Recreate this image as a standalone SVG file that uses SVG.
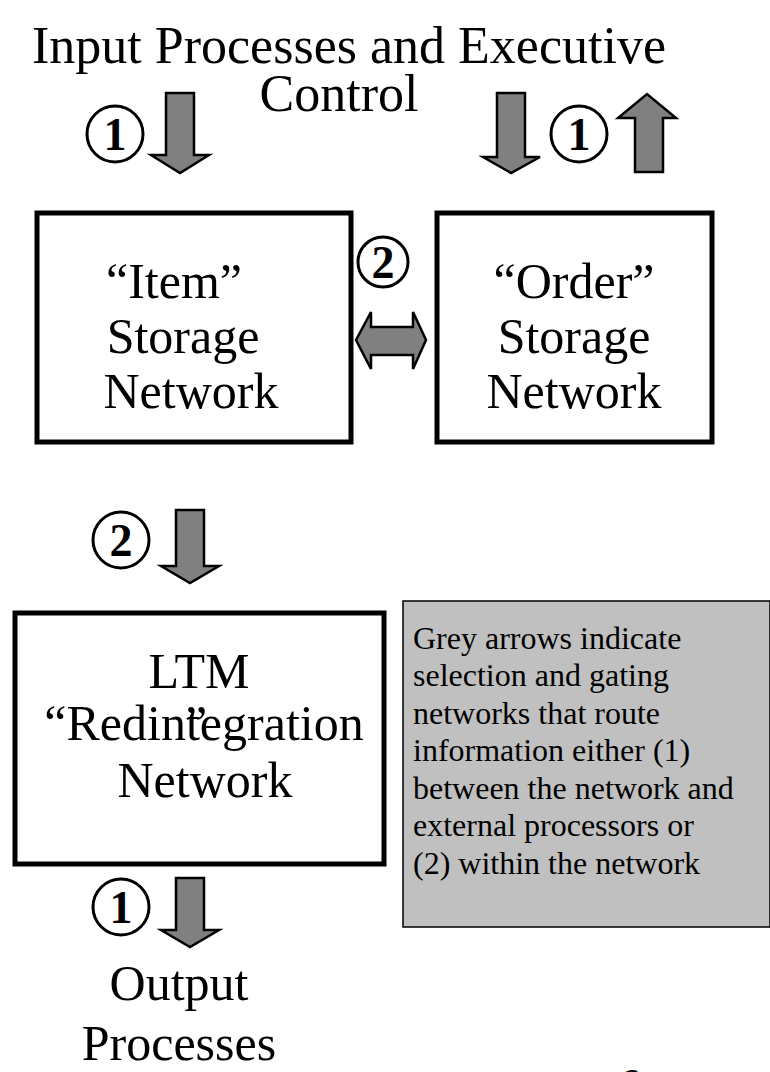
<svg xmlns="http://www.w3.org/2000/svg" width="770" height="1072" viewBox="0 0 770 1072">
  <defs>
    <style>
      .t { font-family: "Liberation Serif", "Times New Roman", serif; fill: #000; }
      .big { font-size: 50px; text-anchor: middle; }
      .title { font-size: 52px; text-anchor: middle; }
      .note { font-size: 32px; }
      .box { fill: #fff; stroke: #000; stroke-width: 5; }
      .arrow { fill: #808080; stroke: #000; stroke-width: 2.5; stroke-linejoin: miter; }
      .badge circle { fill: #fff; stroke: #000; stroke-width: 3; }
      .badge text { font-family: "Liberation Serif", "Times New Roman", serif; font-weight: bold; font-size: 46px; text-anchor: middle; }
    </style>
  </defs>

  <rect width="770" height="1072" fill="#fff"/>

  <!-- external processes -->
  <g id="input-processes">
    <text class="t title" x="349" y="63">Input Processes and Executive</text>
    <text class="t title" x="339" y="111">Control</text>
  </g>

  <!-- storage networks -->
  <g id="item-storage">
    <rect class="box" x="37" y="213" width="314" height="229"/>
    <text class="t big" x="174" y="298">“Item”</text>
    <text class="t big" x="183" y="353">Storage</text>
    <text class="t big" x="191" y="408">Network</text>
  </g>

  <g id="order-storage">
    <rect class="box" x="437" y="213" width="275" height="229"/>
    <text class="t big" x="574" y="298">“Order”</text>
    <text class="t big" x="574" y="353">Storage</text>
    <text class="t big" x="574" y="408">Network</text>
  </g>

  <g id="ltm-network">
    <rect class="box" x="15" y="613" width="369" height="251"/>
    <text class="t big" x="199" y="688">LTM</text>
    <text class="t big" x="204" y="740">“Redintegration</text>
    <text class="t" x="185" y="740" style="font-size:50px">”</text>
    <text class="t big" x="205" y="797">Network</text>
  </g>

  <g id="output-processes">
    <text class="t big" x="179" y="1000">Output</text>
    <text class="t big" x="179" y="1060">Processes</text>
  </g>

  <g id="legend">
    <rect x="403" y="601" width="367" height="326" fill="#c0c0c0" stroke="#000" stroke-width="1.5"/>
    <text class="t note" x="413" y="649">Grey arrows indicate</text>
    <text class="t note" x="413" y="686">selection and gating</text>
    <text class="t note" x="413" y="724">networks that route</text>
    <text class="t note" x="413" y="761">information either (1)</text>
    <text class="t note" x="413" y="799">between the network and</text>
    <text class="t note" x="413" y="836">external processors or</text>
    <text class="t note" x="413" y="874">(2) within the network</text>
  </g>

  <g id="page-number">
    <text class="t" x="620" y="1096" style="font-size:40px">6</text>
  </g>

  <!-- gating arrows and their route labels -->
  <g id="connectors">
    <g class="badge"><circle cx="115" cy="134" r="28"/><text x="115" y="150">1</text></g>
    <path class="arrow" d="M166,93 H194 V155 H209 L180,173 L151,155 H166 Z"/>

    <path class="arrow" d="M497,93 H525 V157 H540 L511,173 L483,157 H497 Z"/>
    <g class="badge"><circle cx="579" cy="134" r="28"/><text x="579" y="150">1</text></g>
    <path class="arrow" d="M635,172 H663 V118 H676 L647,94 L618,118 H635 Z"/>

    <g class="badge"><circle cx="383" cy="262" r="25"/><text x="383" y="278">2</text></g>
    <path class="arrow" d="M356,340 L371,312 V327 H413 V312 L426,340 L413,369 V355 H371 V369 Z"/>

    <g class="badge"><circle cx="121" cy="540" r="28"/><text x="121" y="556">2</text></g>
    <path class="arrow" d="M176,510 H204 V566 H219 L190,583 L161,566 H176 Z"/>

    <g class="badge"><circle cx="121" cy="907" r="28"/><text x="121" y="923">1</text></g>
    <path class="arrow" d="M176,878 H204 V930 H219 L190,947 L161,930 H176 Z"/>
  </g>
</svg>
